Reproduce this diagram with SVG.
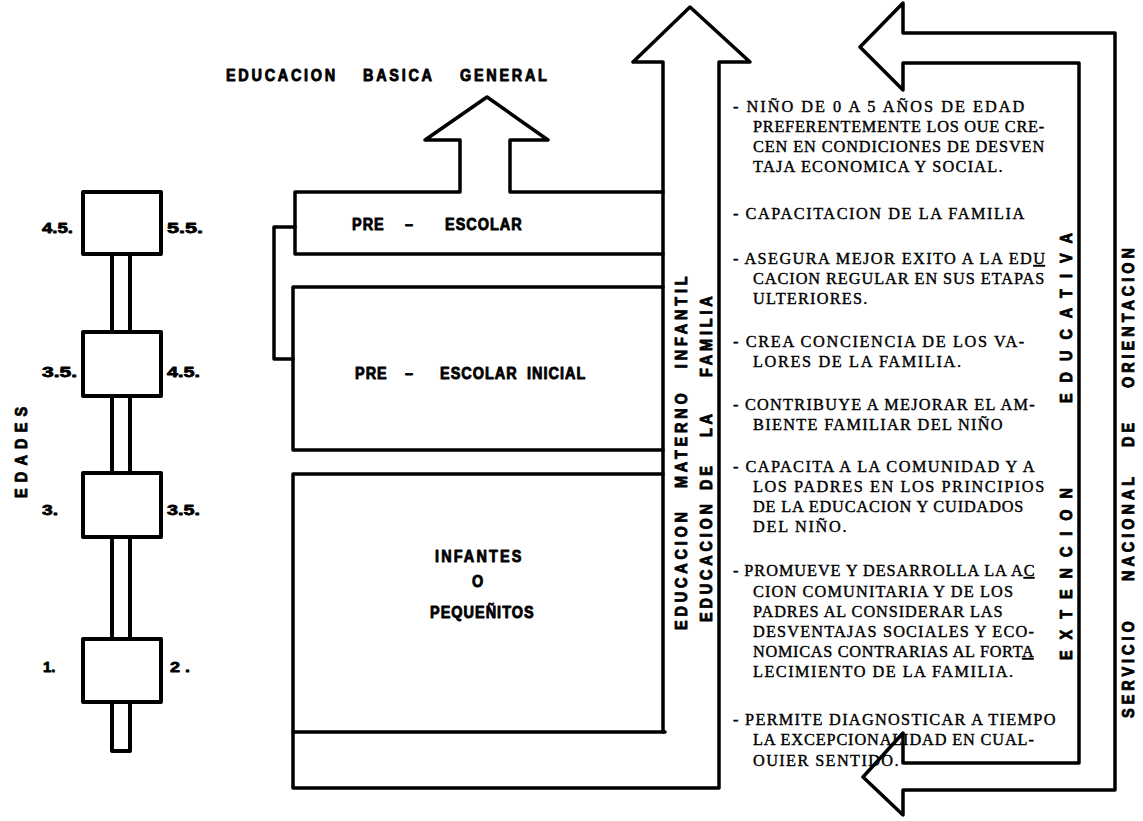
<svg xmlns="http://www.w3.org/2000/svg" width="1143" height="821" viewBox="0 0 1143 821">
<style>
.ln{fill:none;stroke:#000;stroke-width:3.5;stroke-linejoin:round;stroke-linecap:round}
.bx{fill:#fff;stroke:#000;stroke-width:4;stroke-linejoin:round}
.b{font-family:"Liberation Sans",Arial,sans-serif;font-weight:bold;font-size:17px;fill:#000;stroke:#000;stroke-width:0.9;stroke-linejoin:round}
.n{font-family:"Liberation Sans",Arial,sans-serif;font-weight:bold;font-size:15px;fill:#000;stroke:#000;stroke-width:0.8;stroke-linejoin:round}
.m{font-family:"Liberation Serif","Times New Roman",serif;font-size:16.3px;fill:#000;stroke:#000;stroke-width:0.4}
</style>
<rect width="1143" height="821" fill="#fff"/>

<g id="edades">
  <rect x="112" y="254" width="18" height="497" class="bx"/>
  <rect x="83" y="192" width="78" height="62" class="bx"/>
  <rect x="83" y="332" width="78" height="64" class="bx"/>
  <rect x="83" y="473" width="78" height="64" class="bx"/>
  <rect x="83" y="639" width="78" height="63" class="bx"/>
  <text class="n" x="42" y="233" textLength="31" lengthAdjust="spacingAndGlyphs">4.5.</text>
  <text class="n" x="167" y="233" textLength="36" lengthAdjust="spacingAndGlyphs">5.5.</text>
  <text class="n" x="42" y="377" textLength="35" lengthAdjust="spacingAndGlyphs">3.5.</text>
  <text class="n" x="167" y="377" textLength="33" lengthAdjust="spacingAndGlyphs">4.5.</text>
  <text class="n" x="42" y="515" textLength="16" lengthAdjust="spacingAndGlyphs">3.</text>
  <text class="n" x="167" y="515" textLength="33" lengthAdjust="spacingAndGlyphs">3.5.</text>
  <text class="n" x="43" y="672">1.</text>
  <text class="n" x="170" y="672" textLength="20" lengthAdjust="spacingAndGlyphs">2 .</text>
  <text class="b" transform="translate(27 498) rotate(-90) scale(0.85 1)" letter-spacing="7.3">EDADES</text>
</g>

<g id="basica">
  <text class="b" transform="translate(226 81) scale(0.85 1)" letter-spacing="3.2"><tspan x="0">EDUCACION </tspan><tspan x="161.2">BASICA </tspan><tspan x="275.3">GENERAL</tspan></text>
</g>

<g id="materno-infantil">
  <path class="ln" d="M293 732V788H719V62H750L690 7L633 62H663V732"/>
  <text class="b" transform="translate(687 630) rotate(-90) scale(0.85 1)" letter-spacing="4.5"><tspan x="0">EDUCACION </tspan><tspan x="167">MATERNO </tspan><tspan x="308">INFANTIL</tspan></text>
  <text class="b" transform="translate(712 622) rotate(-90) scale(0.85 1)" letter-spacing="4.5"><tspan x="0">EDUCACION </tspan><tspan x="155.3">DE </tspan><tspan x="217.6">LA </tspan><tspan x="288.2">FAMILIA</tspan></text>
</g>

<g id="pre-escolar">
  <path class="ln" d="M663 254H295V192H460V140H425L487 97L548 140H510V192H663"/>
  <text class="b" transform="translate(352 230) scale(0.85 1)" letter-spacing="1.2"><tspan x="0">PRE </tspan><tspan x="62.4">– </tspan><tspan x="109.4">ESCOLAR</tspan></text>
</g>

<g id="pre-escolar-inicial">
  <path class="ln" d="M663 287H293V450H663"/>
  <text class="b" transform="translate(355 379) scale(0.85 1)" letter-spacing="1.2"><tspan x="0">PRE </tspan><tspan x="58.8">– </tspan><tspan x="100">ESCOLAR </tspan><tspan x="202.4">INICIAL</tspan></text>
</g>

<g id="infantes">
  <path class="ln" d="M663 474H293V732H665"/>
  <text class="b" transform="translate(435 562) scale(0.85 1)" letter-spacing="2.5">INFANTES</text>
  <text class="b" transform="translate(472 587) scale(0.85 1)">O</text>
  <text class="b" transform="translate(430 618) scale(0.85 1)" letter-spacing="1.2">PEQUEÑITOS</text>
</g>

<g id="connectors">
  <path class="ln" d="M295 227H274V359H293"/>
</g>

<g id="servicio-orientacion">
  <path class="ln" d="M1079 763V63H903V90L860 47L903 3V33H1115V790H903V815L863 777L903 733V763Z"/>
  <text class="b" transform="translate(1072 660) rotate(-90) scale(0.85 1)" letter-spacing="12.9"><tspan x="0">EXTENCION </tspan><tspan x="302.4">EDUCATIVA</tspan></text>
  <text class="b" transform="translate(1134 718) rotate(-90) scale(0.85 1)" letter-spacing="4.7"><tspan x="0">SERVICIO </tspan><tspan x="161.2">NACIONAL </tspan><tspan x="318.8">DE </tspan><tspan x="388.2">ORIENTACION</tspan></text>
</g>

<g id="objetivos" class="m">
  <text x="733" y="112" textLength="291.2" lengthAdjust="spacing">- NIÑO DE 0 A 5 AÑOS DE EDAD</text>
  <text x="753" y="132" textLength="291.2" lengthAdjust="spacing">PREFERENTEMENTE LOS OUE CRE-</text>
  <text x="753" y="152" textLength="291.2" lengthAdjust="spacing">CEN EN CONDICIONES DE DESVEN</text>
  <text x="753" y="172" textLength="249.6" lengthAdjust="spacing">TAJA ECONOMICA Y SOCIAL.</text>
  <text x="733" y="219" textLength="291.2" lengthAdjust="spacing">- CAPACITACION DE LA FAMILIA</text>
  <text x="733" y="264" textLength="312" lengthAdjust="spacing">- ASEGURA MEJOR EXITO A LA ED<tspan text-decoration="underline">U</tspan></text>
  <text x="753" y="284" textLength="291.2" lengthAdjust="spacing">CACION REGULAR EN SUS ETAPAS</text>
  <text x="753" y="304" textLength="114.4" lengthAdjust="spacing">ULTERIORES.</text>
  <text x="733" y="347" textLength="291.2" lengthAdjust="spacing">- CREA CONCIENCIA DE LOS VA-</text>
  <text x="753" y="367" textLength="208" lengthAdjust="spacing">LORES DE LA FAMILIA.</text>
  <text x="733" y="410" textLength="301.6" lengthAdjust="spacing">- CONTRIBUYE A MEJORAR EL AM-</text>
  <text x="753" y="430" textLength="249.6" lengthAdjust="spacing">BIENTE FAMILIAR DEL NIÑO</text>
  <text x="733" y="472" textLength="301.6" lengthAdjust="spacing">- CAPACITA A LA COMUNIDAD Y A</text>
  <text x="753" y="492" textLength="291.2" lengthAdjust="spacing">LOS PADRES EN LOS PRINCIPIOS</text>
  <text x="753" y="512" textLength="270.4" lengthAdjust="spacing">DE LA EDUCACION Y CUIDADOS</text>
  <text x="753" y="532" textLength="93.6" lengthAdjust="spacing">DEL NIÑO.</text>
  <text x="733" y="576" textLength="301.6" lengthAdjust="spacing">- PROMUEVE Y DESARROLLA LA A<tspan text-decoration="underline">C</tspan></text>
  <text x="753" y="597" textLength="260" lengthAdjust="spacing">CION COMUNITARIA Y DE LOS</text>
  <text x="753" y="617" textLength="249.6" lengthAdjust="spacing">PADRES AL CONSIDERAR LAS</text>
  <text x="753" y="637" textLength="280.8" lengthAdjust="spacing">DESVENTAJAS SOCIALES Y ECO-</text>
  <text x="753" y="657" textLength="280.8" lengthAdjust="spacing">NOMICAS CONTRARIAS AL FORT<tspan text-decoration="underline">A</tspan></text>
  <text x="753" y="677" textLength="260" lengthAdjust="spacing">LECIMIENTO DE LA FAMILIA.</text>
  <text x="733" y="725" textLength="322.4" lengthAdjust="spacing">- PERMITE DIAGNOSTICAR A TIEMPO</text>
  <text x="753" y="745" textLength="280.8" lengthAdjust="spacing">LA EXCEPCIONALIDAD EN CUAL-</text>
  <text x="753" y="766" textLength="145.6" lengthAdjust="spacing">OUIER SENTIDO.</text>
</g>
</svg>
